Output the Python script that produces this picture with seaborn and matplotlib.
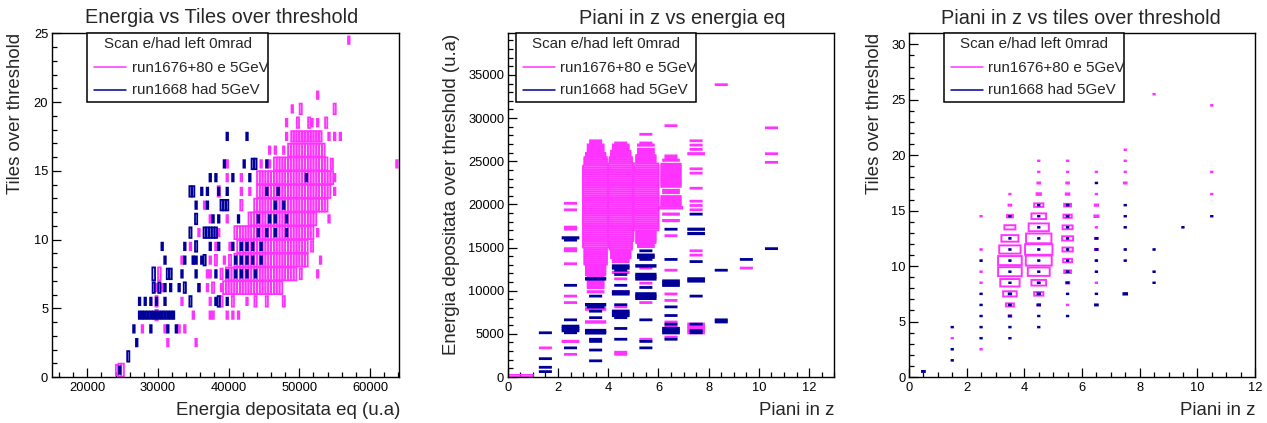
import numpy as np
import matplotlib
matplotlib.use("Agg")
import matplotlib.pyplot as plt
from matplotlib.patches import Rectangle
from matplotlib.lines import Line2D
from matplotlib.ticker import MultipleLocator
import seaborn as sns

# ---------------------------------------------------------------------------
# Data: 2D histogram cells, drawn as boxes whose area follows the entries
# ---------------------------------------------------------------------------
RUN_E = "run1676+80 e 5GeV"
RUN_H = "run1668 had 5GeV"
LEGEND_HEADER = "Scan e/had left 0mrad"

TITLES = ["Energia vs Tiles over threshold",
          "Piani in z vs energia eq",
          "Piani in z vs tiles over threshold"]
XLABELS = ["Energia depositata eq (u.a)", "Piani in z", "Piani in z"]
YLABELS = ["Tiles over threshold",
           "Energia depositata over threshold (u.a)",
           "Tiles over threshold"]

# panel 1: (energy eq, tiles row centre, entries); energy binned in 400 u.a
p1_e_cells = [
    (24200, 0.5, 2), (24600, 0.5, 3), (25000, 0.5, 3),
    (31460, 2.5, 1), (35470, 2.5, 1),
    (27780, 3.5, 1), (31080, 3.5, 1), (32920, 3.5, 1), (33870, 3.5, 1),
    (29810, 4.5, 2), (35000, 4.5, 1), (37360, 4.5, 1), (37830, 4.5, 1),
    (39710, 4.5, 1), (40560, 4.5, 1), (41360, 4.5, 1),
    (29810, 5.5, 2), (33350, 5.5, 1), (37360, 5.5, 1), (39100, 5.5, 2),
    (40750, 5.5, 2), (42600, 5.5, 1), (43800, 5.5, 2), (45500, 5.5, 2),
    (47640, 5.5, 2),
    (29670, 6.5, 1), (30750, 6.5, 1), (35940, 6.5, 1), (37030, 6.5, 1),
    (37830, 6.5, 2), (39010, 6.5, 1),
    (30280, 7.5, 3), (36890, 7.5, 1), (37450, 7.5, 1), (39010, 7.5, 2),
    (50000, 7.5, 2), (52730, 7.5, 1),
    (33350, 8.5, 1), (34900, 8.5, 1), (37360, 8.5, 1), (38300, 8.5, 2),
    (39250, 8.5, 1), (40190, 8.5, 2), (53020, 8.5, 1),
    (34760, 9.5, 1), (38300, 9.5, 1), (40100, 9.5, 1), (51980, 9.5, 2),
    (35850, 10.5, 1), (38770, 10.5, 1), (52690, 10.5, 1),
    (37500, 11.5, 1), (39720, 11.5, 1), (54250, 11.5, 1),
    (36510, 12.5, 1), (41980, 12.5, 2),
    (38440, 13.5, 2), (41980, 13.5, 1), (42930, 13.5, 1), (55000, 13.5, 1),
    (39720, 14.5, 1), (41900, 14.5, 1), (55050, 14.5, 1),
    (39810, 15.5, 1), (44620, 15.5, 1), (45750, 15.5, 1), (54500, 15.5, 2),
    (63870, 15.5, 1),
    (45850, 16.5, 1), (46700, 16.5, 1), (47640, 16.5, 1),
    (48210, 17.5, 1), (54100, 17.5, 1), (54810, 17.5, 1), (55750, 17.5, 1),
    (48210, 18.5, 1), (49900, 18.5, 2), (51300, 18.5, 2), (51900, 18.5, 1),
    (52700, 18.5, 1), (53870, 18.5, 2),
    (49150, 19.5, 1), (50090, 19.5, 2), (54810, 19.5, 2),
    (52590, 20.5, 1),
    (57170, 24.5, 1),
]
# rows of consecutive filled cells: (tiles row, energy from, energy to, entries)
p1_e_runs = [
    (6.5, 39250, 47600, 3), (7.5, 39480, 49720, 3), (8.5, 40660, 51270, 3),
    (9.5, 41230, 51270, 3), (10.5, 40750, 51980, 3), (11.5, 42780, 52450, 3),
    (12.5, 43630, 54100, 3), (13.5, 43960, 54340, 3), (14.5, 43870, 54810, 3),
    (15.5, 46320, 54100, 3), (16.5, 48210, 53630, 3), (17.5, 48900, 53400, 2),
]
p1_h_cells = [
    (24600, 0.5, 1), (25800, 1.5, 2), (26980, 2.5, 1),
    (26600, 3.5, 1), (28960, 3.5, 1), (31410, 3.5, 1), (32590, 3.5, 1),
    (27360, 5.5, 1), (28160, 5.5, 1), (28960, 5.5, 1), (29810, 5.5, 1),
    (31040, 5.5, 1), (34620, 5.5, 2), (38160, 5.5, 1), (38680, 5.5, 2),
    (39720, 5.5, 1),
    (29340, 6.5, 2), (30190, 6.5, 2), (31090, 6.5, 1), (31840, 6.5, 1),
    (32880, 6.5, 1), (33730, 6.5, 2), (35610, 6.5, 1),
    (29580, 7.5, 3), (31460, 7.5, 2), (31930, 7.5, 2), (33350, 7.5, 1),
    (35470, 7.5, 1), (38070, 7.5, 1), (39950, 7.5, 1), (40900, 7.5, 1),
    (41840, 7.5, 1), (42780, 7.5, 1), (43730, 7.5, 1),
    (31090, 8.5, 1), (33730, 8.5, 1), (35140, 8.5, 1), (35560, 8.5, 1),
    (36180, 8.5, 1), (36750, 8.5, 2), (40990, 8.5, 1), (41840, 8.5, 1),
    (42550, 8.5, 1), (43490, 8.5, 1), (44430, 8.5, 1),
    (30610, 9.5, 1), (33820, 9.5, 1), (35380, 9.5, 2), (37360, 9.5, 1),
    (38770, 9.5, 1), (40660, 9.5, 1), (41840, 9.5, 1), (42640, 9.5, 1),
    (43490, 9.5, 1), (44430, 9.5, 1),
    (34530, 10.5, 2), (44060, 10.5, 1), (45380, 10.5, 1), (46790, 10.5, 1),
    (48210, 10.5, 1),
    (35380, 11.5, 2), (37920, 11.5, 1), (38770, 11.5, 1), (41420, 11.5, 1),
    (44340, 11.5, 1), (45610, 11.5, 1), (46700, 11.5, 1), (48300, 11.5, 1),
    (35380, 12.5, 1), (36980, 12.5, 1), (39100, 12.5, 2), (39500, 12.5, 2),
    (39950, 12.5, 2), (46700, 12.5, 1), (47830, 12.5, 1),
    (34640, 13.5, 2), (35000, 13.5, 2), (36180, 13.5, 1), (36890, 13.5, 1),
    (38680, 13.5, 1), (39720, 13.5, 1), (45380, 13.5, 1), (47030, 13.5, 1),
    (37450, 14.5, 1), (38300, 14.5, 1), (40660, 14.5, 1), (43020, 14.5, 1),
    (51040, 14.5, 1),
    (39390, 15.5, 1), (42310, 15.5, 1), (43400, 15.5, 2), (43870, 15.5, 2),
    (45380, 15.5, 1),
    (39720, 17.5, 1), (42640, 17.5, 1),
]
p1_h_runs = [(4.5, 27220, 32260, 1), (10.5, 36510, 38300, 2)]

# panel 2: (planes column centre, energy, entries); energy binned in 250 u.a
p2_e_cells = [
    (0.5, 100, 5),
    (1.5, 3360, 1),
    (2.5, 20220, 1), (2.5, 19410, 1), (2.5, 15850, 1), (2.5, 14890, 1),
    (2.5, 14500, 1), (2.5, 13150, 1), (2.5, 9280, 1), (2.5, 8700, 1),
    (2.5, 4180, 2), (2.5, 2510, 1),
    (3.5, 9780, 2), (3.5, 7930, 3), (3.5, 6460, 3),
    (4.5, 12180, 2), (4.5, 11400, 1), (4.5, 9980, 2), (4.5, 8000, 1),
    (4.5, 2900, 1), (4.5, 2650, 1),
    (5.5, 28030, 1), (5.5, 27070, 1), (5.5, 26800, 2), (5.5, 12570, 1),
    (5.5, 10830, 1), (5.5, 8580, 1), (5.5, 4330, 1),
    (6.5, 29080, 1), (6.5, 25720, 1), (6.5, 25460, 1), (6.5, 25210, 2),
    (6.5, 21660, 2), (6.5, 21270, 2), (6.5, 19530, 4), (6.5, 18950, 2),
    (6.5, 18170, 2), (6.5, 16320, 1), (6.5, 12450, 1), (6.5, 9740, 1),
    (6.5, 8820, 1), (6.5, 6460, 1), (6.5, 5880, 1), (6.5, 4720, 1),
    (7.5, 27460, 1), (7.5, 26880, 1), (7.5, 26300, 1), (7.5, 25790, 2),
    (7.5, 24170, 1), (7.5, 23670, 1), (7.5, 21850, 1), (7.5, 20420, 1),
    (7.5, 19910, 1), (7.5, 19260, 1), (7.5, 14500, 1), (7.5, 14120, 1),
    (8.5, 33830, 1), (9.5, 12640, 1),
    (10.5, 28770, 1), (10.5, 25750, 1), (10.5, 24750, 1),
]
# columns of consecutive filled cells: (planes, energy from, energy to, entries)
p2_e_runs = [
    (2.5, 17000, 17600, 1),
    (3.5, 26900, 27400, 1), (3.5, 26100, 26900, 2), (3.5, 25500, 26100, 3),
    (3.5, 24500, 25500, 4), (3.5, 15100, 24500, 5), (3.5, 13000, 15100, 4),
    (3.5, 11700, 13000, 3), (3.5, 10300, 11700, 2),
    (4.5, 26900, 27300, 1), (4.5, 26300, 26900, 2), (4.5, 25500, 26300, 3),
    (4.5, 24750, 25500, 4), (4.5, 15850, 24750, 5), (4.5, 14700, 15850, 4),
    (4.5, 13730, 14700, 3), (4.5, 13150, 13730, 2),
    (5.5, 25720, 26500, 2), (5.5, 24750, 25720, 3), (5.5, 17000, 24750, 5),
    (5.5, 15470, 17000, 3), (5.5, 14890, 15470, 2),
    (6.5, 22040, 24750, 3), (6.5, 19800, 21080, 3),
    (7.5, 4900, 6300, 2),
]
p2_h_cells = [
    (1.5, 5100, 1), (1.5, 2240, 1), (1.5, 1160, 1), (1.5, 660, 1),
    (2.5, 16160, 2), (2.5, 15900, 1), (2.5, 10520, 1), (2.5, 6500, 1),
    (2.5, 5880, 2), (2.5, 5600, 2), (2.5, 5350, 2), (2.5, 5100, 1),
    (2.5, 3480, 1),
    (3.5, 11330, 3), (3.5, 9360, 1), (3.5, 8390, 3), (3.5, 8150, 2),
    (3.5, 7540, 1), (3.5, 6960, 1), (3.5, 5410, 3), (3.5, 5150, 3),
    (3.5, 4450, 1), (3.5, 4140, 1), (3.5, 3090, 1), (3.5, 1930, 1),
    (4.5, 12950, 2), (4.5, 12700, 2), (4.5, 12450, 1), (4.5, 11990, 1),
    (4.5, 10630, 1), (4.5, 9860, 2), (4.5, 9670, 2), (4.5, 8390, 1),
    (4.5, 7730, 2), (4.5, 7480, 2), (4.5, 7230, 2), (4.5, 6770, 1),
    (4.5, 5610, 1), (4.5, 4250, 1),
    (5.5, 14700, 1), (5.5, 14000, 2), (5.5, 13750, 2), (5.5, 13530, 1),
    (5.5, 12840, 3), (5.5, 11790, 3), (5.5, 11540, 3), (5.5, 11290, 3),
    (5.5, 10440, 1), (5.5, 9670, 3), (5.5, 9420, 3), (5.5, 9170, 3),
    (5.5, 6690, 1), (5.5, 4020, 1), (5.5, 3250, 1),
    (6.5, 17010, 1), (6.5, 13610, 1), (6.5, 11020, 2), (6.5, 10770, 2),
    (6.5, 10520, 2), (6.5, 8040, 1), (6.5, 7040, 1), (6.5, 6190, 1),
    (6.5, 5610, 2), (6.5, 5360, 2), (6.5, 5130, 2), (6.5, 4330, 1),
    (7.5, 18950, 1), (7.5, 17210, 2), (7.5, 16710, 2), (7.5, 13420, 1),
    (7.5, 11400, 2), (7.5, 11150, 2), (7.5, 9470, 1), (7.5, 6000, 1),
    (7.5, 5250, 1), (7.5, 5000, 1),
    (8.5, 12450, 1), (8.5, 6550, 1), (8.5, 6350, 1),
    (9.5, 13530, 1), (10.5, 14970, 1),
]

# panel 3: (planes, tiles, entries), unit cells
p3_e_cells = [
    (1.5, 3.5, 1),
    (2.5, 14.5, 1), (2.5, 11.5, 1), (2.5, 9.5, 1), (2.5, 8.5, 1), (2.5, 2.5, 1),
    (3.5, 16.5, 1), (3.5, 15.5, 4), (3.5, 14.5, 19), (3.5, 13.5, 64),
    (3.5, 12.5, 153), (3.5, 11.5, 241), (3.5, 10.5, 296), (3.5, 9.5, 296),
    (3.5, 8.5, 198), (3.5, 7.5, 97), (3.5, 6.5, 34), (3.5, 5.5, 4),
    (4.5, 19.5, 1), (4.5, 18.5, 1), (4.5, 17.5, 4), (4.5, 16.5, 10),
    (4.5, 15.5, 45), (4.5, 14.5, 114), (4.5, 13.5, 216), (4.5, 12.5, 340),
    (4.5, 11.5, 397), (4.5, 10.5, 356), (4.5, 9.5, 254), (4.5, 8.5, 114),
    (4.5, 7.5, 45), (4.5, 6.5, 4),
    (5.5, 19.5, 1), (5.5, 18.5, 1), (5.5, 17.5, 4), (5.5, 16.5, 7),
    (5.5, 15.5, 25), (5.5, 14.5, 37), (5.5, 13.5, 53), (5.5, 12.5, 64),
    (5.5, 11.5, 57), (5.5, 10.5, 42), (5.5, 9.5, 25), (5.5, 8.5, 6),
    (5.5, 6.5, 1),
    (6.5, 18.5, 1), (6.5, 16.5, 1), (6.5, 15.5, 6), (6.5, 14.5, 9),
    (6.5, 13.5, 1), (6.5, 12.5, 4), (6.5, 11.5, 4), (6.5, 10.5, 1),
    (6.5, 8.5, 1),
    (7.5, 20.5, 1), (7.5, 19.5, 1), (7.5, 18.5, 1), (7.5, 17.5, 4),
    (8.5, 25.5, 1),
    (10.5, 24.5, 1), (10.5, 18.5, 1), (10.5, 16.5, 1),
]
p3_h_cells = [
    (0.5, 0.5, 4),
    (1.5, 4.5, 1), (1.5, 2.5, 1), (1.5, 1.5, 1),
    (2.5, 10.5, 1), (2.5, 7.5, 1), (2.5, 6.5, 1), (2.5, 5.5, 1),
    (2.5, 4.5, 1), (2.5, 3.5, 1),
    (3.5, 14.5, 1), (3.5, 12.5, 1), (3.5, 11.5, 1), (3.5, 10.5, 1),
    (3.5, 9.5, 1), (3.5, 8.5, 1), (3.5, 7.5, 3), (3.5, 6.5, 2),
    (3.5, 5.5, 2), (3.5, 4.5, 1), (3.5, 3.5, 1),
    (4.5, 15.5, 1), (4.5, 14.5, 1), (4.5, 13.5, 1), (4.5, 12.5, 1),
    (4.5, 11.5, 1), (4.5, 10.5, 1), (4.5, 9.5, 1), (4.5, 8.5, 2),
    (4.5, 7.5, 3), (4.5, 6.5, 3), (4.5, 5.5, 1), (4.5, 4.5, 1),
    (5.5, 15.5, 2), (5.5, 14.5, 2), (5.5, 13.5, 1), (5.5, 12.5, 1),
    (5.5, 11.5, 1), (5.5, 10.5, 1), (5.5, 9.5, 2), (5.5, 8.5, 2),
    (5.5, 7.5, 1), (5.5, 5.5, 1),
    (6.5, 17.5, 1), (6.5, 12.5, 2), (6.5, 11.5, 2), (6.5, 10.5, 1),
    (6.5, 9.5, 1), (6.5, 7.5, 1), (6.5, 6.5, 4),
    (7.5, 15.5, 1), (7.5, 14.5, 1), (7.5, 13.5, 1), (7.5, 11.5, 1),
    (7.5, 10.5, 1), (7.5, 7.5, 7),
    (8.5, 11.5, 1), (8.5, 9.5, 1), (8.5, 8.5, 1),
    (9.5, 13.5, 1), (10.5, 14.5, 1),
]

# ---------------------------------------------------------------------------
# Style
# ---------------------------------------------------------------------------
PINK = "#ff33ff"
NAVY = "#000099"
W, H = 1267, 423

sns.set_style("white")
plt.rcParams["font.family"] = ["Liberation Sans", "DejaVu Sans"]
plt.rcParams["axes.linewidth"] = 1.0
plt.rcParams["axes.edgecolor"] = "black"


def snap(v, bw):
    return (np.floor(np.asarray(v, float) / bw) + 0.5) * bw


def run_centres(lo, hi, bw):
    k0 = int(np.ceil(lo / bw - 0.5))
    k1 = int(np.ceil(hi / bw - 0.5))
    return (np.arange(k0, k1) + 0.5) * bw


def collect(cells, runs, bw, binned_axis):
    """Return x, y, n arrays of histogram cells; one axis is binned with bw."""
    xs, ys, ns = [], [], []
    for a, b, n in cells:
        if binned_axis == "x":
            xs.append(float(snap(a, bw))); ys.append(b)
        else:
            xs.append(a); ys.append(float(snap(b, bw)))
        ns.append(n)
    for fixed, lo, hi, n in runs:
        for c in run_centres(lo, hi, bw):
            if binned_axis == "x":
                xs.append(c); ys.append(fixed)
            else:
                xs.append(fixed); ys.append(c)
            ns.append(n)
    return np.array(xs), np.array(ys), np.array(ns, float)


def draw_boxes(ax, xs, ys, ns, cw, ch, zmax, color, z, lw):
    r = np.sqrt(ns / zmax)
    w = cw * r
    h = ch * r
    ax.bar(xs, h, width=w, bottom=ys - h / 2, align="center", fill=False,
           edgecolor=color, linewidth=lw, zorder=z, snap=False)


def frac_box(l, t, r, b):
    return [l / W, 1 - b / H, (r - l) / W, (b - t) / H]


fig = plt.figure(figsize=(W / 100, H / 100), dpi=100)
fig.patch.set_facecolor("white")

ax1 = fig.add_axes(frac_box(51.7, 33.3, 399, 377))
ax2 = fig.add_axes(frac_box(507.7, 33.3, 834.3, 377))
ax3 = fig.add_axes(frac_box(909, 33.3, 1255, 377))

# panel 1
x, y, n = collect(p1_e_cells, p1_e_runs, 400, "x")
draw_boxes(ax1, x, y, n, 400, 1.0, 3.4, PINK, 2, 1.3)
x, y, n = collect(p1_h_cells, p1_h_runs, 400, "x")
draw_boxes(ax1, x, y, n, 400, 1.0, 3.4, NAVY, 2.1, 1.3)
ax1.set_xlim(14970, 64100)
ax1.set_ylim(0, 25)
ax1.xaxis.set_major_locator(MultipleLocator(10000))
ax1.xaxis.set_minor_locator(MultipleLocator(2000))
ax1.yaxis.set_major_locator(MultipleLocator(5))
ax1.yaxis.set_minor_locator(MultipleLocator(1))

# panel 2
x, y, n = collect(p2_e_cells, p2_e_runs, 250, "y")
draw_boxes(ax2, x, y, n, 1.0, 250, 5, PINK, 2, 1.3)
x, y, n = collect(p2_h_cells, [], 250, "y")
draw_boxes(ax2, x, y, n, 1.0, 250, 5, NAVY, 2.1, 1.3)
ax2.set_xlim(0, 13)
ax2.set_ylim(0, 39830)
ax2.xaxis.set_major_locator(MultipleLocator(2))
ax2.xaxis.set_minor_locator(MultipleLocator(0.5))
ax2.yaxis.set_major_locator(MultipleLocator(5000))
ax2.yaxis.set_minor_locator(MultipleLocator(1000))

# panel 3
e3 = np.array(p3_e_cells, float)
h3 = np.array(p3_h_cells, float)
draw_boxes(ax3, e3[:, 0], e3[:, 1], e3[:, 2], 1.0, 1.0, 440, PINK, 2, 1.4)
draw_boxes(ax3, h3[:, 0], h3[:, 1], h3[:, 2], 1.0, 1.0, 440, NAVY, 2.1, 1.4)
ax3.set_xlim(0, 12)
ax3.set_ylim(0, 31)
ax3.xaxis.set_major_locator(MultipleLocator(2))
ax3.xaxis.set_minor_locator(MultipleLocator(0.5))
ax3.yaxis.set_major_locator(MultipleLocator(5))
ax3.yaxis.set_minor_locator(MultipleLocator(1))

for ax in (ax1, ax2, ax3):
    ax.set_facecolor("white")
    for sp in ax.spines.values():
        sp.set_visible(True)
        sp.set_color("black")
        sp.set_linewidth(1.0)
        sp.set_zorder(3)
    ax.tick_params(which="both", direction="in", top=False, right=False,
                   bottom=True, left=True, colors="black", labelsize=9.3)
    ax.tick_params(which="major", length=6.5, width=0.9)
    ax.tick_params(which="minor", length=3.3, width=0.9)
    ax.tick_params(axis="x", which="both", pad=3.5)
    ax.tick_params(axis="y", which="both", pad=2.5)
    ax.grid(False)

# titles and axis labels placed like the pad text
title_pos = [(222, 17.5), (682.5, 19), (1080.5, 18)]
for (tx, ty), t in zip(title_pos, TITLES):
    fig.text(tx / W, 1 - ty / H, t, ha="center", va="center", fontsize=14.3)

xlab_pos = [(400, 410.5), (834, 410.5), (1255, 410.5)]
for (lx, ly), t in zip(xlab_pos, XLABELS):
    fig.text(lx / W, 1 - ly / H, t, ha="right", va="center", fontsize=13.4)

ylab_pos = [16, 451, 874.5]
for lx, t in zip(ylab_pos, YLABELS):
    fig.text(lx / W, 1 - 33.3 / H, t, ha="center", va="top", rotation=90,
             fontsize=13.4)

# legends
legend_boxes = [(87.3, 267.7), (516, 696), (944, 1124.3)]
for left, right in legend_boxes:
    top, bottom = 33.3, 102.3
    fig.add_artist(Rectangle((left / W, 1 - bottom / H), (right - left) / W,
                             (bottom - top) / H, transform=fig.transFigure,
                             facecolor="white", edgecolor="black",
                             linewidth=1.1, zorder=5))
    fig.text((left + right) / 2 / W, 1 - 44.5 / H, LEGEND_HEADER,
             ha="center", va="center", fontsize=10.9, zorder=6)
    l0, l1 = left + 6.7, left + 38.7
    tx = left + 44.4
    for yy, col, lab in ((67.5, PINK, RUN_E), (90, NAVY, RUN_H)):
        fig.add_artist(Line2D([l0 / W, l1 / W], [1 - yy / H, 1 - yy / H],
                              transform=fig.transFigure, color=col,
                              linewidth=1.1, zorder=6))
        fig.text(tx / W, 1 - yy / H, lab, ha="left", va="center",
                 fontsize=10.9, zorder=6)

fig.savefig("out.png", dpi=100, facecolor="white")
